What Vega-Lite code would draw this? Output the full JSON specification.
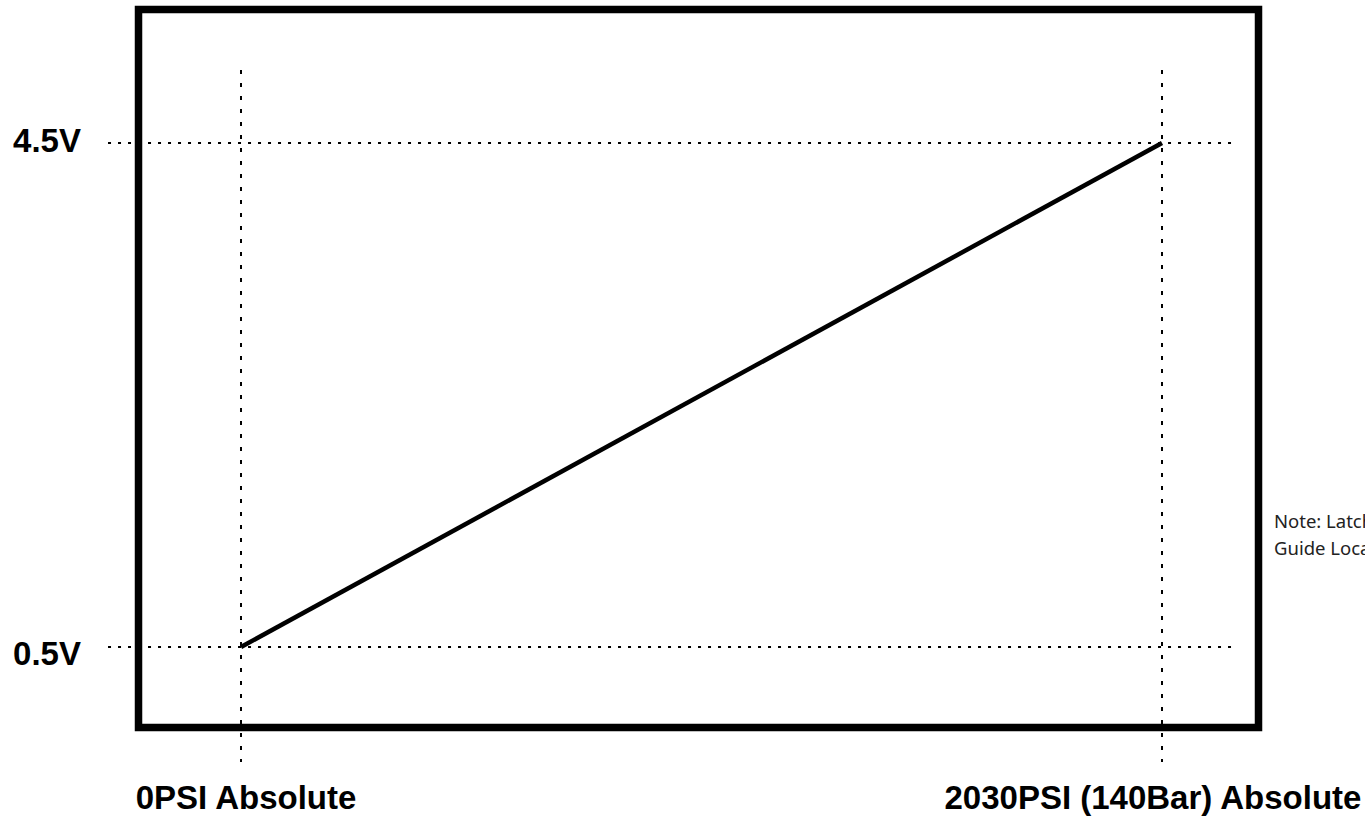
{
  "$schema": "https://vega.github.io/schema/vega-lite/v6.json",
  "width": 1365,
  "height": 816,
  "padding": 0,
  "autosize": {"type": "none"},
  "background": "white",
  "config": {"view": {"stroke": null}},
  "layer": [
    {
      "data": {"values": [{"x1": -225.9, "x2": 2242.7, "y1": 5.5595, "y2": -0.139}]},
      "mark": {"type": "rect", "fill": "transparent", "stroke": "black", "strokeWidth": 7.5},
      "encoding": {
        "x": {"field": "x1", "type": "quantitative", "scale": {"domain": [-531.19, 2477.42], "nice": false, "zero": false}, "axis": null},
        "x2": {"field": "x2"},
        "y": {"field": "y1", "type": "quantitative", "scale": {"domain": [-0.8413, 5.6349], "nice": false, "zero": false}, "axis": null},
        "y2": {"field": "y2"}
      }
    },
    {
      "data": {"values": [
        {"x1": 0, "x2": 0, "y1": 5.079, "y2": -0.413},
        {"x1": 2030, "x2": 2030, "y1": 5.079, "y2": -0.413}
      ]},
      "mark": {"type": "rule", "stroke": "black", "strokeWidth": 2, "strokeDash": [4, 9]},
      "encoding": {
        "x": {"field": "x1", "type": "quantitative"},
        "x2": {"field": "x2"},
        "y": {"field": "y1", "type": "quantitative"},
        "y2": {"field": "y2"}
      }
    },
    {
      "data": {"values": [
        {"x1": -293.1, "x2": 2193.1, "y1": 4.5, "y2": 4.5},
        {"x1": -293.1, "x2": 2193.1, "y1": 0.5, "y2": 0.5}
      ]},
      "mark": {"type": "rule", "stroke": "black", "strokeWidth": 2, "strokeDash": [3, 7]},
      "encoding": {
        "x": {"field": "x1", "type": "quantitative"},
        "x2": {"field": "x2"},
        "y": {"field": "y1", "type": "quantitative"},
        "y2": {"field": "y2"}
      }
    },
    {
      "data": {"values": [{"x1": 0, "y1": 0.5}, {"x1": 2030, "y1": 4.5}]},
      "mark": {"type": "line", "stroke": "black", "strokeWidth": 4.5, "strokeCap": "butt"},
      "encoding": {
        "x": {"field": "x1", "type": "quantitative"},
        "y": {"field": "y1", "type": "quantitative"}
      }
    },
    {
      "data": {"values": [
        {"x1": -352.7, "y1": 4.431, "label": "4.5V"},
        {"x1": -352.7, "y1": 0.357, "label": "0.5V"}
      ]},
      "mark": {"type": "text", "align": "right", "baseline": "alphabetic", "font": "Liberation Sans", "fontWeight": "bold", "fontSize": 33, "color": "black"},
      "encoding": {
        "x": {"field": "x1", "type": "quantitative"},
        "y": {"field": "y1", "type": "quantitative"},
        "text": {"field": "label"}
      }
    },
    {
      "data": {"values": [
        {"x1": 11, "y1": -0.786, "label": "0PSI Absolute"},
        {"x1": 2010, "y1": -0.786, "label": "2030PSI (140Bar) Absolute"}
      ]},
      "mark": {"type": "text", "align": "center", "baseline": "alphabetic", "font": "Liberation Sans", "fontWeight": "bold", "fontSize": 33, "color": "black"},
      "encoding": {
        "x": {"field": "x1", "type": "quantitative"},
        "y": {"field": "y1", "type": "quantitative"},
        "text": {"field": "label"}
      }
    },
    {
      "data": {"values": [
        {"x1": 2276.8, "y1": 1.444, "label": "Note: Latching\nGuide Location"}
      ]},
      "mark": {"type": "text", "align": "left", "baseline": "alphabetic", "font": "Noto Sans", "fontSize": 18.5, "lineHeight": 27, "lineBreak": "\n", "color": "#222222"},
      "encoding": {
        "x": {"field": "x1", "type": "quantitative"},
        "y": {"field": "y1", "type": "quantitative"},
        "text": {"field": "label"}
      }
    }
  ]
}
